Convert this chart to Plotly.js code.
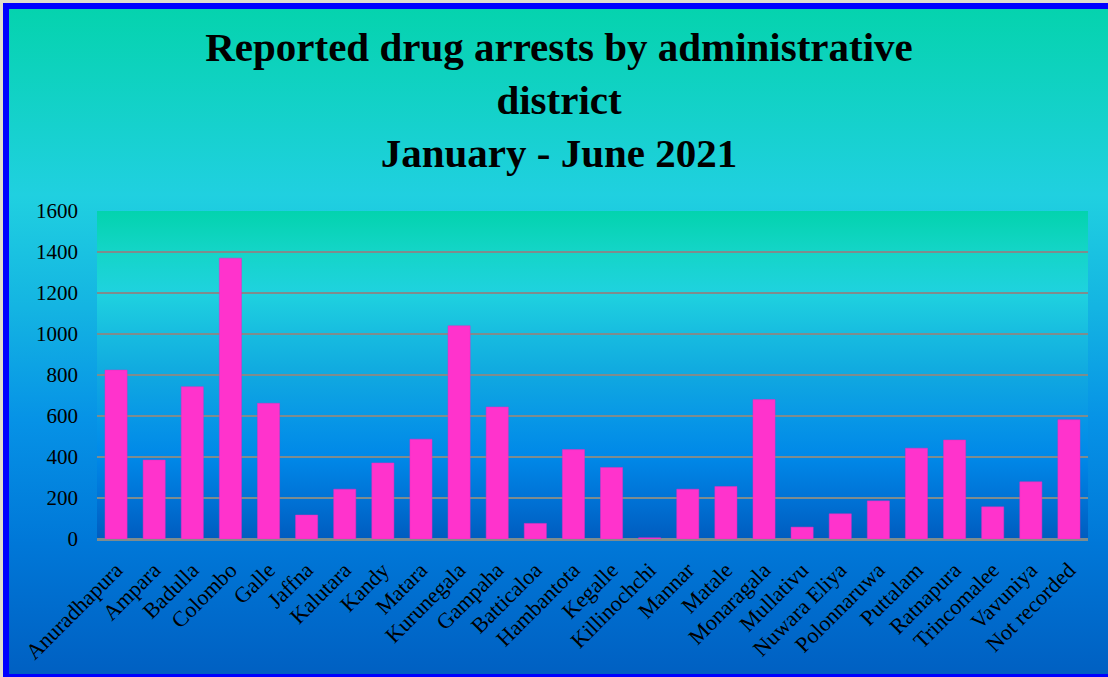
<!DOCTYPE html>
<html>
<head>
<meta charset="utf-8">
<script src="https://cdn.plot.ly/plotly-3.0.1.min.js"></script>
<style>
  html, body { margin: 0; padding: 0; width: 1108px; height: 677px; overflow: hidden; background: #e0dccc; }
  #frame {
    position: absolute; left: 3px; top: 3px;
    width: 1100px; height: 665px;
    border: 6px solid #0000ff;
    background: linear-gradient(to bottom, #05d3ae 0%, #20d0e0 28%, #14b4e2 45%, #0692e6 62%, #0078d8 80%, #0060c2 100%);
  }
  #chart { position: absolute; left: 0; top: 0; width: 1100px; height: 665px; }
</style>
</head>
<body>
<div id="frame"><div id="chart"></div></div>
<script>
const districts = ["Anuradhapura","Ampara","Badulla","Colombo","Galle","Jaffna","Kalutara","Kandy","Matara","Kurunegala","Gampaha","Batticaloa","Hambantota","Kegalle","Killinochchi","Mannar","Matale","Monaragala","Mullativu","Nuwara Eliya","Polonnaruwa","Puttalam","Ratnapura","Trincomalee","Vavuniya","Not recorded"];
const arrests = [824, 385, 743, 1370, 662, 117, 243, 371, 487, 1040, 644, 76, 436, 349, 6, 243, 256, 680, 58, 123, 186, 443, 483, 157, 279, 582];
const yTicks = [0, 200, 400, 600, 800, 1000, 1200, 1400, 1600];

const gradSvg = '<svg xmlns="http://www.w3.org/2000/svg" width="100" height="100" viewBox="0 0 100 100" preserveAspectRatio="none">' +
  '<defs><linearGradient id="g" x1="0" y1="0" x2="0" y2="1">' +
  '<stop offset="0" stop-color="#03d3ae"/>' +
  '<stop offset="0.125" stop-color="#14d5c8"/>' +
  '<stop offset="0.25" stop-color="#1fd2df"/>' +
  '<stop offset="0.375" stop-color="#17bce0"/>' +
  '<stop offset="0.5" stop-color="#10a8e0"/>' +
  '<stop offset="0.625" stop-color="#0898e6"/>' +
  '<stop offset="0.75" stop-color="#0088e8"/>' +
  '<stop offset="0.875" stop-color="#0073d6"/>' +
  '<stop offset="1" stop-color="#005cbf"/>' +
  '</linearGradient></defs><rect x="0" y="0" width="100" height="100" fill="url(#g)"/></svg>';
const gradUri = 'data:image/svg+xml;charset=utf-8,' + encodeURIComponent(gradSvg);

const serif = '"Liberation Serif", "Times New Roman", serif';

const trace = {
  type: 'bar',
  x: districts,
  y: arrests,
  marker: { color: '#ff33cc', line: { color: '#e030c0', width: 0.5 } },
  hoverinfo: 'x+y'
};

const layout = {
  width: 1100, height: 665,
  paper_bgcolor: 'rgba(0,0,0,0)',
  plot_bgcolor: 'rgba(0,0,0,0)',
  margin: { l: 88, r: 21, t: 202, b: 135 },
  bargap: 0.42,
  showlegend: false,
  title: {
    text: '<b>Reported drug arrests by administrative<br>district<br>January - June 2021</b>',
    font: { family: serif, size: 41, color: '#000000' },
    x: 0.5, xanchor: 'center',
    y: 0.922, yanchor: 'top', yref: 'container'
  },
  xaxis: {
    type: 'category',
    tickangle: -45,
    tickfont: { family: serif, size: 22, color: '#000000' },
    showgrid: false,
    showline: true, linecolor: '#7f8c8d', linewidth: 1.5,
    ticks: '', ticklabelstandoff: 8,
    fixedrange: true
  },
  yaxis: {
    range: [0, 1600],
    tickvals: yTicks,
    ticktext: yTicks.map(String),
    tickfont: { family: serif, size: 21, color: '#000000' },
    showgrid: true, gridcolor: '#7f8c8d', gridwidth: 1.5,
    zeroline: true, zerolinecolor: '#7f8c8d', zerolinewidth: 1.5,
    showline: false, ticks: '', ticklabelstandoff: 18,
    fixedrange: true
  },
  images: [{
    source: gradUri,
    xref: 'paper', yref: 'paper',
    x: 0, y: 1, sizex: 1, sizey: 1,
    xanchor: 'left', yanchor: 'top',
    sizing: 'stretch', layer: 'below'
  }]
};

Plotly.newPlot('chart', [trace], layout, { displayModeBar: false, staticPlot: true });
</script>
</body>
</html>
